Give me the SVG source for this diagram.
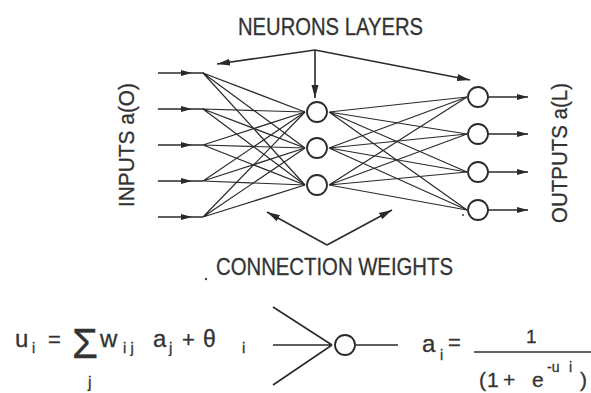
<svg xmlns="http://www.w3.org/2000/svg" width="591" height="393" viewBox="0 0 591 393">
<style>
.t{font-family:"Liberation Sans",Arial,sans-serif;fill:#333;stroke:#333;stroke-width:0.3}
.l{stroke:#2a2a2a;stroke-width:1.2;fill:none}
.a{stroke:#2a2a2a;stroke-width:1.6;fill:none}
.n{stroke:#2a2a2a;stroke-width:1.8;fill:#fff}
</style>
<defs>
<marker id="ah" markerUnits="userSpaceOnUse" markerWidth="14" markerHeight="8" refX="13" refY="4" orient="auto"><path d="M0,0.5 L13,4 L0,7.5 Z" fill="#2a2a2a"/></marker>
<marker id="sm" markerUnits="userSpaceOnUse" markerWidth="12" markerHeight="8" refX="11" refY="4" orient="auto"><path d="M0,1 L11,4 L0,7 Z" fill="#2a2a2a"/></marker>
</defs>
<rect width="591" height="393" fill="#fff"/>
<g id="connectors">
<g class="l">
<path d="M203,73 L305,112 M203,73 L305,148 M203,73 L305,185"/>
<path d="M203,109 L305,112 M203,109 L305,148 M203,109 L305,185"/>
<path d="M203,145 L305,112 M203,145 L305,148 M203,145 L305,185"/>
<path d="M203,181 L305,112 M203,181 L305,148 M203,181 L305,185"/>
<path d="M203,217 L305,112 M203,217 L305,148 M203,217 L305,185"/>
<path d="M329,112 L467,97 M329,112 L467,134 M329,112 L467,172 M329,112 L467,210"/>
<path d="M329,148 L467,97 M329,148 L467,134 M329,148 L467,172 M329,148 L467,210"/>
<path d="M329,185 L467,97 M329,185 L467,134 M329,185 L467,172 M329,185 L467,210"/>
</g>
<g class="a">
<polyline points="158,73 192,73 203,73" marker-mid="url(#sm)"/>
<polyline points="158,109 192,109 203,109" marker-mid="url(#sm)"/>
<polyline points="158,145 192,145 203,145" marker-mid="url(#sm)"/>
<polyline points="158,181 192,181 203,181" marker-mid="url(#sm)"/>
<polyline points="158,217 192,217 203,217" marker-mid="url(#sm)"/>
<line x1="488" y1="97" x2="528" y2="97" marker-end="url(#sm)"/>
<line x1="488" y1="134" x2="528" y2="134" marker-end="url(#sm)"/>
<line x1="488" y1="172" x2="528" y2="172" marker-end="url(#sm)"/>
<line x1="488" y1="210" x2="528" y2="210" marker-end="url(#sm)"/>
<line x1="315" y1="50" x2="217" y2="64" marker-end="url(#ah)"/>
<line x1="315" y1="50" x2="315" y2="98" marker-end="url(#ah)"/>
<line x1="315" y1="50" x2="470" y2="80" marker-end="url(#ah)"/>
<line x1="327" y1="245" x2="267" y2="212" marker-end="url(#ah)"/>
<line x1="327" y1="245" x2="392" y2="210" marker-end="url(#ah)"/>
</g>
</g>
<g id="hidden1"><circle class="n" cx="317" cy="112" r="10"/></g>
<g id="hidden2"><circle class="n" cx="317" cy="148" r="10"/></g>
<g id="hidden3"><circle class="n" cx="317" cy="185" r="10"/></g>
<g id="out1"><circle class="n" cx="478" cy="97" r="10"/></g>
<g id="out2"><circle class="n" cx="478" cy="134" r="10"/></g>
<g id="out3"><circle class="n" cx="478" cy="172" r="10"/></g>
<g id="out4"><circle class="n" cx="478" cy="210" r="10"/></g>
<g id="labels">
<text class="t" x="238" y="35" font-size="24" textLength="185" lengthAdjust="spacingAndGlyphs">NEURONS LAYERS</text>
<text class="t" x="216" y="275" font-size="24" textLength="237" lengthAdjust="spacingAndGlyphs">CONNECTION WEIGHTS</text>
<text class="t" font-size="22" text-anchor="middle" textLength="124" lengthAdjust="spacingAndGlyphs" transform="translate(134,145) rotate(-90)">INPUTS a(O)</text>
<text class="t" font-size="22" text-anchor="middle" textLength="140" lengthAdjust="spacingAndGlyphs" transform="translate(567,153) rotate(-90)">OUTPUTS a(L)</text>
<circle cx="206" cy="279" r="1.2" fill="#444"/>
<circle cx="463" cy="215" r="1" fill="#444"/>
</g>
<g id="neuron">
<path class="a" d="M273,307 L332,345 M273,345 L332,345 M273,385 L332,345 M356,345 L398,345"/>
<circle class="n" cx="345" cy="345" r="10"/>
</g>
<g id="formula1" class="t">
<text x="15" y="347" font-size="24">u</text>
<text x="32" y="353" font-size="14">i</text>
<text x="48" y="347" font-size="22">=</text>
<text x="72" y="358" font-size="42" textLength="26" lengthAdjust="spacingAndGlyphs">Σ</text>
<text x="88" y="388" font-size="16">j</text>
<text x="100" y="347" font-size="24">w</text>
<text x="123" y="353" font-size="15">i j</text>
<text x="153" y="347" font-size="24">a</text>
<text x="169" y="353" font-size="15">j</text>
<text x="182" y="347" font-size="22">+</text>
<text x="203" y="347" font-size="23">θ</text>
<text x="242" y="353" font-size="15">i</text>
</g>
<g id="formula2" class="t">
<text x="422" y="352" font-size="24">a</text>
<text x="440" y="360" font-size="14">i</text>
<text x="448" y="350" font-size="22">=</text>
<text x="526" y="343" font-size="19">1</text>
<line x1="474" y1="352" x2="591" y2="352" stroke="#2a2a2a" stroke-width="1.4"/>
<text x="479" y="387" font-size="21">(</text>
<text x="487" y="387" font-size="21">1</text>
<text x="503" y="387" font-size="21">+</text>
<text x="532" y="387" font-size="21">e</text>
<text x="547" y="372" font-size="14">-u</text>
<text x="569" y="372" font-size="14">i</text>
<text x="580" y="387" font-size="21">)</text>
</g>
</svg>
